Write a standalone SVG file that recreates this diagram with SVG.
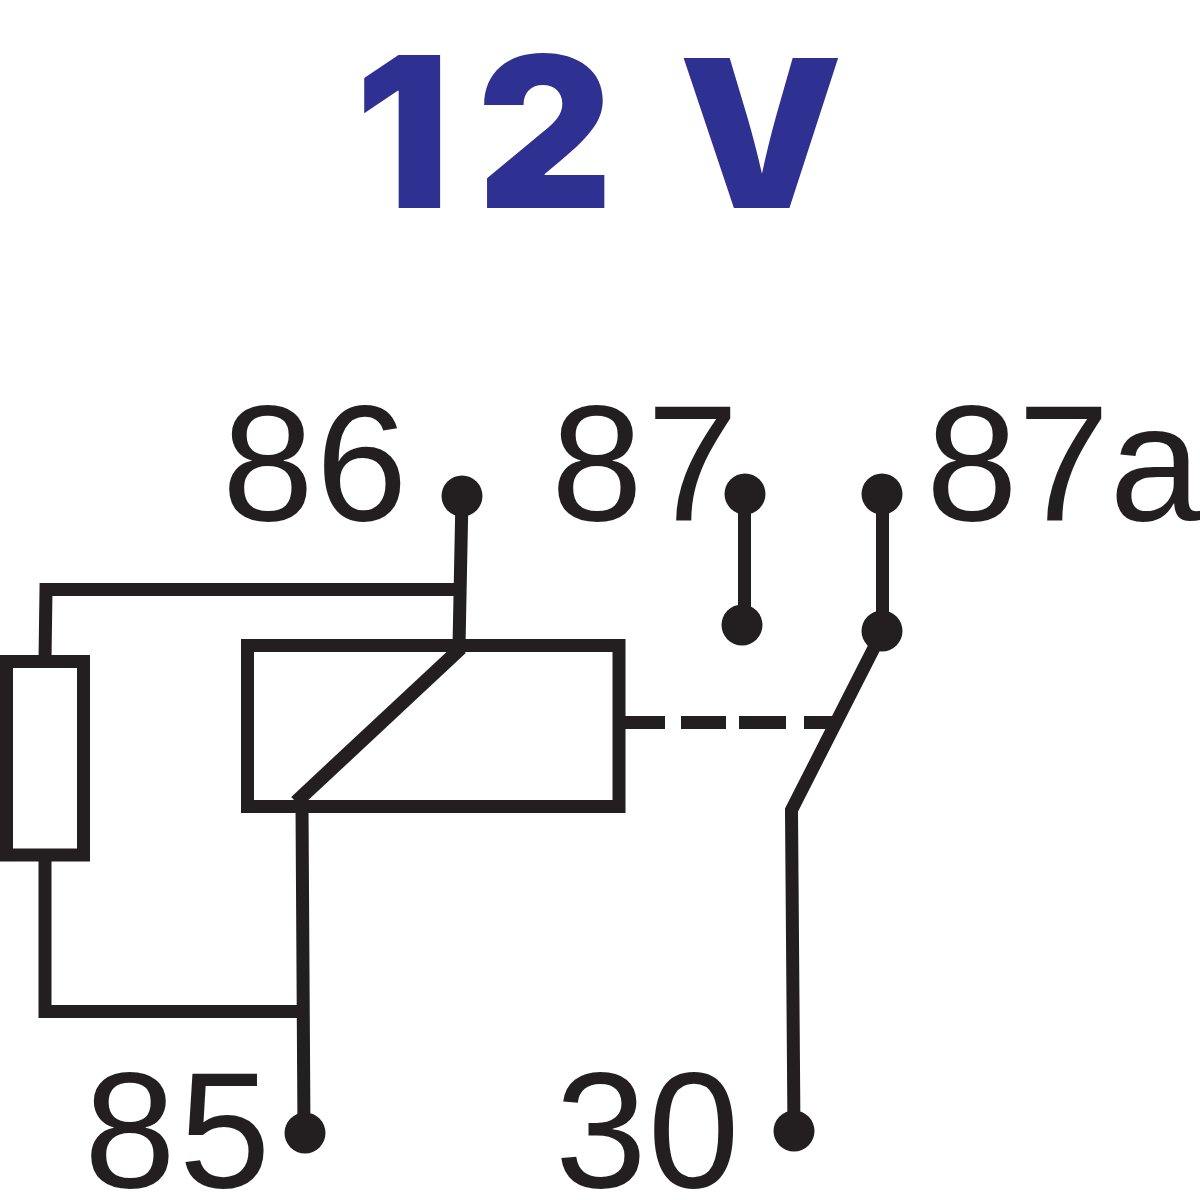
<svg xmlns="http://www.w3.org/2000/svg" width="1200" height="1200" viewBox="0 0 1200 1200">
<style>
.w{fill:none;stroke:#231f20;stroke-width:13;stroke-linejoin:miter}
.d{fill:#231f20}
.l{font-family:"Liberation Sans",Arial,sans-serif;font-size:165px;fill:#231f20}
.t{font-family:"Inter","Liberation Sans",sans-serif;font-size:210px;font-weight:900;fill:#2e3192}
</style>
<rect width="1200" height="1200" fill="#fff"/>
<text class="t" x="355 477" y="208">12<tspan x="679" font-size="206">V</tspan></text>
<g id="connectors">
<path class="w" d="M462 496L459 646M460 589.500H46L45 660M45 856V1011.500H304M302 806L304 1134"/>
<path class="w" style="stroke-width:14" d="M461 648L296 802"/>
<path class="w" d="M744.500 494V626M882.500 494V632"/>
<path class="w" d="M878 640L791.500 810L794 1132"/>
<path class="w" d="M625 722.500H665M681 722.500H726M739 722.500H786M804 722.500H836"/>
</g>
<g id="coil"><rect class="w" x="247.500" y="645.500" width="371.500" height="161"/></g>
<g id="resistor"><rect class="w" x="6.500" y="661.500" width="77" height="193.500"/></g>
<g id="pin86"><circle class="d" cx="462" cy="496" r="20.500"/><text class="l" x="222" y="520" letter-spacing="2">86</text></g>
<g id="pin87"><circle class="d" cx="745" cy="494" r="20.500"/><circle class="d" cx="742" cy="625" r="20.500"/><text class="l" x="551" y="520" letter-spacing="4">87</text></g>
<g id="pin87a"><circle class="d" cx="882" cy="494" r="20.500"/><circle class="d" cx="882" cy="631" r="20.500"/><text class="l" x="926" y="520">87a</text></g>
<g id="pin85"><circle class="d" cx="305" cy="1133" r="20.500"/><text class="l" x="84" y="1187" letter-spacing="3">85</text></g>
<g id="pin30"><circle class="d" cx="794" cy="1131" r="20.500"/><text class="l" x="555" y="1187" letter-spacing="1">30</text></g>
</svg>
